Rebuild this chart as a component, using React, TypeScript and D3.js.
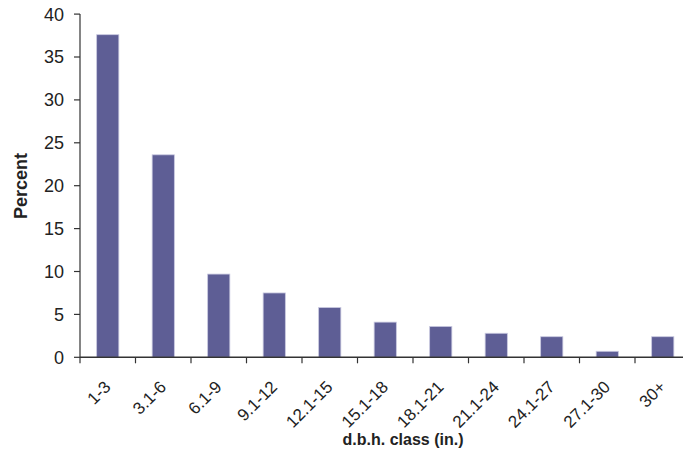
import React from "react";
import * as d3 from "d3";

const categories = ["1-3", "3.1-6", "6.1-9", "9.1-12", "12.1-15", "15.1-18", "18.1-21", "21.1-24", "24.1-27", "27.1-30", "30+"];
const percents = [37.6, 23.6, 9.7, 7.5, 5.8, 4.1, 3.6, 2.8, 2.4, 0.7, 2.4];
const yTicks = [0, 5, 10, 15, 20, 25, 30, 35, 40];

const W = 683;
const H = 453;
const left = 80;
const right = 690.5;
const top = 14.1;
const bottom = 357.3;

export default function App() {
  const x = d3.scaleBand<string>().domain(categories).range([left, right]).paddingInner(0).paddingOuter(0);
  const y = d3.scaleLinear().domain([0, 40]).range([bottom, top]);
  const bw = x.bandwidth() * 0.4;
  const font = "Arial, 'Liberation Sans', Helvetica, sans-serif";
  const axisColor = "#333";
  const boundaries = categories.map((c) => x(c) as number).concat([right]);

  return (
    <svg width={W} height={H} style={{ position: "absolute", left: 0, top: 0, background: "#fff" }} fontFamily={font}>
      {categories.map((c, i) => {
        const cx = (x(c) as number) + x.bandwidth() / 2;
        return (
          <rect
            key={c}
            x={cx - bw / 2}
            y={y(percents[i])}
            width={bw}
            height={bottom - y(percents[i])}
            fill="#5e5e95"
            stroke="#c9c9e0"
            strokeWidth={0.8}
          />
        );
      })}
      {/* y axis */}
      <line x1={left} x2={left} y1={top} y2={bottom} stroke={axisColor} strokeWidth={1.2} />
      {yTicks.map((t) => (
        <g key={t}>
          <line x1={left - 6} x2={left} y1={y(t)} y2={y(t)} stroke={axisColor} strokeWidth={1.2} />
          <text x={64} y={y(t)} dy="0.36em" textAnchor="end" fontSize={18} fill="#222">
            {t}
          </text>
        </g>
      ))}
      {/* x axis */}
      <line x1={left} x2={W} y1={bottom} y2={bottom} stroke={axisColor} strokeWidth={1.5} />
      {boundaries.map((b, i) => (
        <line key={i} x1={b} x2={b} y1={bottom} y2={bottom + 6} stroke={axisColor} strokeWidth={1.2} />
      ))}
      {categories.map((c) => {
        const cx = (x(c) as number) + x.bandwidth() / 2;
        return (
          <text
            key={c}
            transform={`translate(${cx + 4},${388}) rotate(-45)`}
            textAnchor="end"
            fontSize={17}
            fill="#222"
          >
            {c}
          </text>
        );
      })}
      <text x={403} y={445} textAnchor="middle" fontSize={16} fontWeight="bold" fill="#222">
        d.b.h. class (in.)
      </text>
      <text
        transform={`translate(26.5,186) rotate(-90)`}
        textAnchor="middle"
        fontSize={18}
        fontWeight="bold"
        fill="#222"
      >
        Percent
      </text>
    </svg>
  );
}
